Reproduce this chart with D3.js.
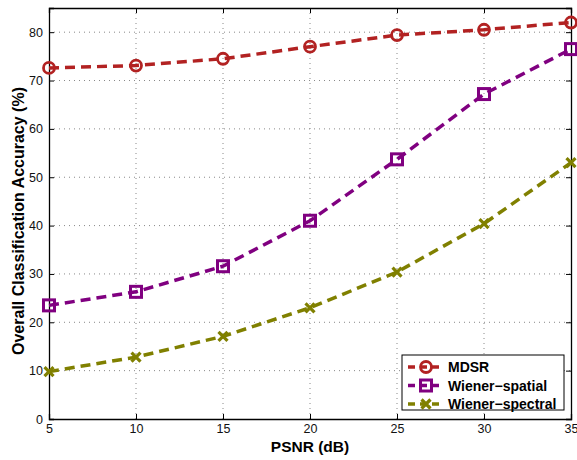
<!DOCTYPE html>
<html>
<head>
<meta charset="utf-8">
<script src="https://cdn.jsdelivr.net/npm/d3@7"></script>
<style>
  body { margin: 0; background: #fff; }
  text { font-family: "Liberation Sans", Arial, sans-serif; }
</style>
</head>
<body>
<div id="chart"></div>
<script>
// data
const psnr = [5, 10, 15, 20, 25, 30, 35];
const mdsr = [72.6, 73.1, 74.5, 77.0, 79.4, 80.5, 82.0];
const wienerSpatial = [23.5, 26.3, 31.6, 41.0, 53.7, 67.2, 76.5];
const wienerSpectral = [9.8, 12.8, 17.1, 23.0, 30.4, 40.4, 53.0];
const xTicks = [5, 10, 15, 20, 25, 30, 35];
const yTicks = [0, 10, 20, 30, 40, 50, 60, 70, 80];
const seriesNames = ["MDSR", "Wiener\u2212spatial", "Wiener\u2212spectral"];

const W = 577, H = 460;
const margin = {top: 8, right: 6, bottom: 41, left: 49};
const width = W - margin.left - margin.right;
const height = H - margin.top - margin.bottom;

const svg = d3.select("#chart")
  .append("svg")
    .attr("width", W)
    .attr("height", H)
  .append("g")
    .attr("transform", `translate(${margin.left},${margin.top})`);

const x = d3.scaleLinear().domain([5, 35]).range([0, width]);
const y = d3.scaleLinear().domain([0, 85]).range([height, 0]);

// dotted grid
svg.append("g")
  .selectAll("line")
  .data(xTicks.slice(1, -1))
  .join("line")
    .attr("x1", d => x(d)).attr("x2", d => x(d))
    .attr("y1", 0).attr("y2", height)
    .attr("stroke", "#888").attr("stroke-width", 1)
    .attr("stroke-dasharray", "1,4");
svg.append("g")
  .selectAll("line")
  .data(yTicks.slice(1))
  .join("line")
    .attr("x1", 0).attr("x2", width)
    .attr("y1", d => y(d)).attr("y2", d => y(d))
    .attr("stroke", "#888").attr("stroke-width", 1)
    .attr("stroke-dasharray", "1,4");

// axes, ticks pointing inward
const fmt = d3.format("d");
svg.append("g")
  .attr("transform", `translate(0,${height})`)
  .call(d3.axisBottom(x).tickValues(xTicks).tickSize(-5).tickPadding(5).tickFormat(fmt));
svg.append("g")
  .call(d3.axisLeft(y).tickValues(yTicks).tickSize(-5).tickPadding(6).tickFormat(fmt));
svg.append("g")
  .call(d3.axisTop(x).tickValues(xTicks).tickSize(-5).tickFormat(""));
svg.append("g")
  .attr("transform", `translate(${width},0)`)
  .call(d3.axisRight(y).tickValues(yTicks).tickSize(-5).tickFormat(""));

svg.selectAll(".domain").attr("stroke", "#000").attr("stroke-width", 1.3);
svg.selectAll(".tick line").attr("stroke", "#000");
svg.selectAll(".tick text")
  .attr("fill", "#111")
  .style("font-size", "12.5px");

// axis labels
svg.append("text")
  .attr("x", width / 2)
  .attr("y", 444)
  .attr("text-anchor", "middle")
  .style("font-size", "15.5px")
  .style("font-weight", "bold")
  .text("PSNR (dB)");
svg.append("text")
  .attr("transform", `translate(${24 - margin.left},${height / 2 + 7.5}) rotate(-90)`)
  .attr("text-anchor", "middle")
  .style("font-size", "16px")
  .style("font-weight", "bold")
  .text("Overall Classification Accuracy (%)");

// series
const series = [
  {name: seriesNames[0], values: mdsr, color: "#b22222", marker: "circle"},
  {name: seriesNames[1], values: wienerSpatial, color: "#800080", marker: "square"},
  {name: seriesNames[2], values: wienerSpectral, color: "#808000", marker: "cross"}
];

const line = d3.line()
  .x((d, i) => x(psnr[i]))
  .y(d => y(d));

function drawMarker(g, type, color) {
  if (type === "circle") {
    g.append("circle").attr("r", 5.5)
      .attr("fill", "none").attr("stroke", color).attr("stroke-width", 2.8);
  } else if (type === "square") {
    g.append("rect").attr("x", -5.5).attr("y", -5.5).attr("width", 11).attr("height", 11)
      .attr("fill", "none").attr("stroke", color).attr("stroke-width", 3);
  } else {
    g.append("path").attr("d", "M-4.5,-4.5L4.5,4.5M-4.5,4.5L4.5,-4.5")
      .attr("fill", "none").attr("stroke", color).attr("stroke-width", 3.2);
  }
}

series.forEach(s => {
  svg.append("path")
    .datum(s.values)
    .attr("d", line)
    .attr("fill", "none")
    .attr("stroke", s.color)
    .attr("stroke-width", 3.5)
    .attr("stroke-dasharray", "10,6");
  s.values.forEach((v, i) => {
    const g = svg.append("g").attr("transform", `translate(${x(psnr[i])},${y(v)})`);
    drawMarker(g, s.marker, s.color);
  });
});

// legend
const lg = svg.append("g")
  .attr("transform", `translate(${402 - margin.left},${355 - margin.top})`);
lg.append("rect")
  .attr("width", 162).attr("height", 55)
  .attr("fill", "#fff").attr("stroke", "#000").attr("stroke-width", 1);
series.forEach((s, i) => {
  const row = lg.append("g").attr("transform", `translate(0,${12 + i * 18.5})`);
  row.append("line")
    .attr("x1", 6).attr("x2", 42)
    .attr("stroke", s.color).attr("stroke-width", 3.5)
    .attr("stroke-dasharray", "7,5");
  const m = row.append("g").attr("transform", "translate(24,0)");
  drawMarker(m, s.marker, s.color);
  row.append("text")
    .attr("x", 46).attr("y", 5)
    .style("font-size", "14px")
    .style("font-weight", "bold")
    .text(s.name);
});
</script>
</body>
</html>
